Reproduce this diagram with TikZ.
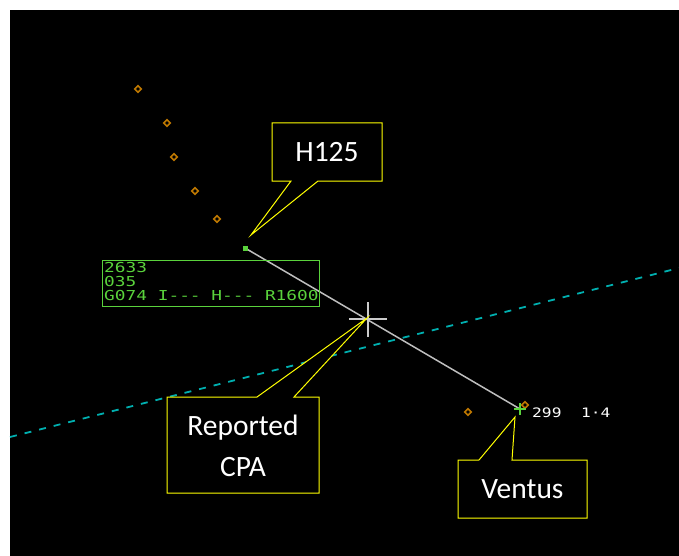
\documentclass[tikz,border=0pt]{standalone}
\usepackage{fontspec}
\setmainfont{Carlito}
\newfontfamily\radar[FakeStretch=1.3]{DejaVu Sans Mono}
\newfontfamily\radarb[FakeStretch=1.25]{DejaVu Sans Mono}
\usetikzlibrary{shapes.geometric,calc}
\definecolor{plotamber}{RGB}{190,120,0}
\definecolor{plotgreen}{RGB}{90,210,60}
\definecolor{trackgrey}{RGB}{190,190,190}
\definecolor{seacyan}{RGB}{0,175,175}
\definecolor{calloutyellow}{RGB}{255,255,0}
\tikzset{
  plot/.style={draw=plotamber, line width=1.6pt, shape=diamond, inner sep=0pt, minimum size=7pt},
  callout/.style={fill=black, draw=calloutyellow, line width=1pt, line join=miter},
  ctext/.style={text=white, font=\fontsize{29.5}{41}\selectfont, align=center},
}
\begin{document}
\begin{tikzpicture}[x=1pt,y=-1pt]
\useasboundingbox (0,0) rectangle (679,556);
\fill[white] (0,0) rectangle (679,556);
\fill[black] (10,10) rectangle (679,556);
% dashed boundary line
\coordinate (dL) at (10,437);
\coordinate (dR) at (679,268);
\draw[seacyan, line width=1.8pt, dash pattern=on 7pt off 8pt] (dL) -- (dR);
% history plots
\node[plot] (p1) at (138,89) {};
\node[plot] (p2) at (167,123) {};
\node[plot] (p3) at (174,157) {};
\node[plot] (p4) at (195,191) {};
\node[plot] (p5) at (217,219) {};
\node[plot] (p6) at (468,412) {};
\node[plot] (p7) at (525,405) {};
% track positions
\coordinate (h125) at (245,248);
\coordinate (ventus) at (520,409);
\coordinate (cpa) at (368,319);
\draw[trackgrey, line width=1.5pt] (h125) -- (ventus);
\fill[plotgreen] ($(h125)+(-2.5,-2.5)$) rectangle ($(h125)+(2.5,2.5)$);
\draw[plotgreen, line width=1.6pt] ($(ventus)+(-6,0)$) -- ($(ventus)+(6,0)$) ($(ventus)+(0,-6)$) -- ($(ventus)+(0,6)$);
% CPA cross
\draw[trackgrey!80!white, line width=2pt] ($(cpa)+(-19,0)$) -- ($(cpa)+(19,0)$) ($(cpa)+(0,-17)$) -- ($(cpa)+(0,18)$);
% label block
\node[draw=plotgreen, line width=1.3pt, minimum width=217pt, minimum height=46pt, anchor=north west, inner sep=0pt] (lbl) at (102,260) {};
\node[text=plotgreen, anchor=north west, inner sep=0pt, align=left, font=\radar\fontsize{13.7}{14}\selectfont] (lbltxt) at (104,262) {2633\\035\\G074 I--- H--- R1600};
\node[text=white, anchor=west, inner sep=0pt, font=\radarb\fontsize{13}{14}\selectfont] (vlbl) at (532,412.5) {299\ \ 1·4};
% callouts
\filldraw[callout] (272,123) -- (382,123) -- (382,181) -- (318,181) -- (251,235) -- (291,181) -- (272,181) -- cycle;
\node[ctext] (th) at (327,152) {H125};
\filldraw[callout] (167,397) -- (257,397) -- (367,318) -- (294,397) -- (319,397) -- (319,493) -- (167,493) -- cycle;
\node[ctext] (tc) at (243,445.5) {Reported\\CPA};
\filldraw[callout] (458,460) -- (479,460) -- (515,417) -- (512,460) -- (587,460) -- (587,518) -- (458,518) -- cycle;
\node[ctext] (tv) at (522.5,489) {Ventus};
\end{tikzpicture}
\end{document}
